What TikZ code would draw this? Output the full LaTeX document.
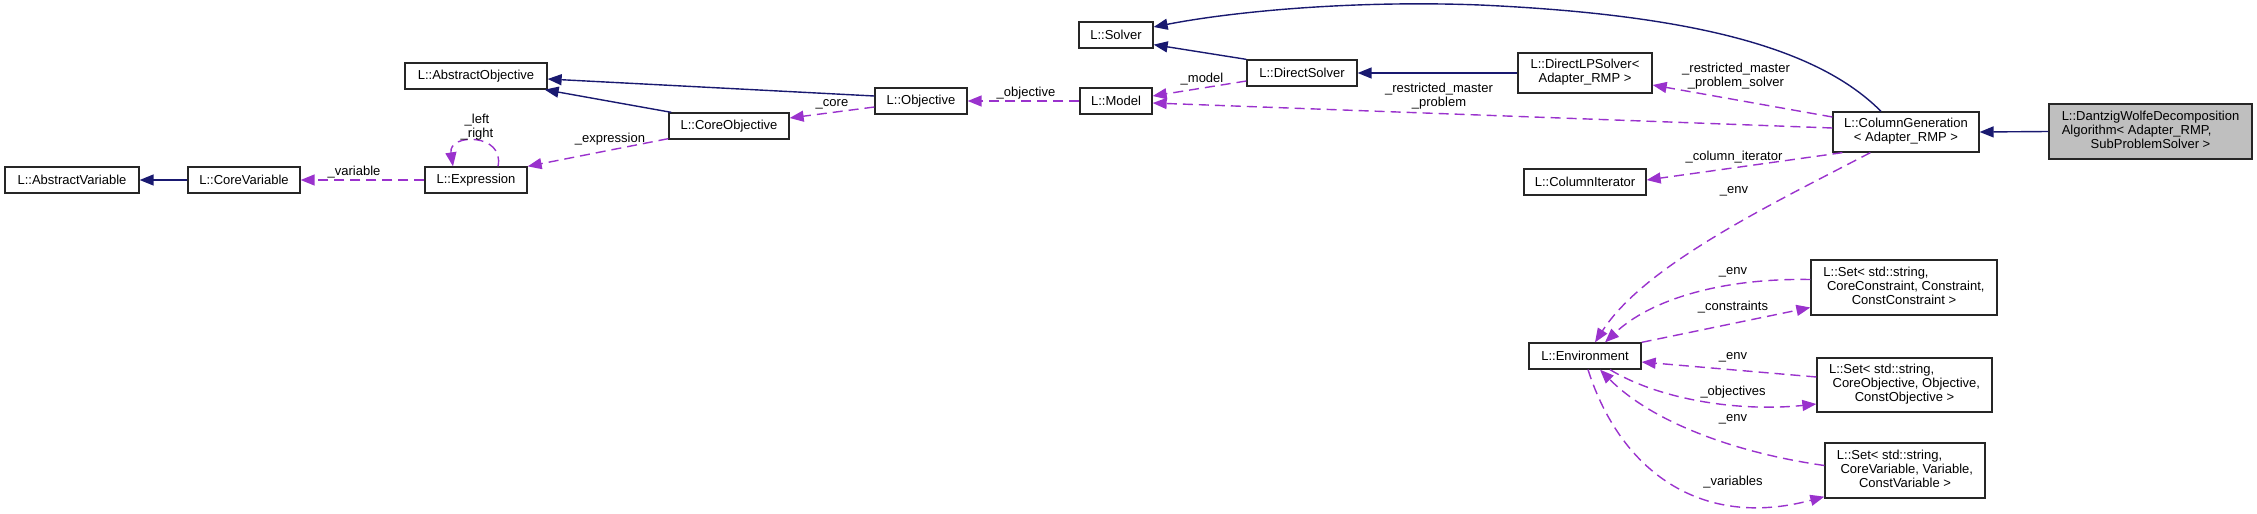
\documentclass[tikz,border=0pt]{standalone}
\usepackage{fontspec}
\setmainfont{Liberation Sans}
\usetikzlibrary{arrows.meta}
\definecolor{navyc}{HTML}{191970}
\definecolor{orchidc}{HTML}{9A32CD}
\definecolor{grayc}{HTML}{BFBFBF}
\newcommand\cfont{\fontsize{13}{14}\selectfont}
\newcommand\lastln[1]{\multicolumn{1}{@{}c@{}}{#1}}
\tikzset{
  cls/.style={draw=black!85, line width=1.3pt, inner sep=0pt, font=\cfont, minimum height=26pt, align=center},
  inh/.style={draw=navyc, line width=1.4pt, -{Triangle[length=14pt,width=11pt]}},
  use/.style={draw=orchidc, line width=1.4pt, dash pattern=on 10pt off 6pt, -{Triangle[length=14pt,width=11pt]}},
  lbl/.style={inner sep=0pt, font=\cfont, align=center}
}
\begin{document}
\begin{tikzpicture}[x=1pt,y=-1pt]
\useasboundingbox (0,0) rectangle (2257,514);
% nodes
\node[cls, minimum width=134pt] (av) at (72,180) {L::AbstractVariable};
\node[cls, minimum width=112pt] (cv) at (244,180) {L::CoreVariable};
\node[cls, minimum width=102pt] (ex) at (476,180) {L::Expression};
\node[cls, minimum width=142pt] (ao) at (476,76) {L::AbstractObjective};
\node[cls, minimum width=120pt] (co) at (729,126) {L::CoreObjective};
\node[cls, minimum width=92pt] (ob) at (921,101) {L::Objective};
\node[cls, minimum width=72pt] (md) at (1116,101) {L::Model};
\node[cls, minimum width=74pt] (sl) at (1116,35) {L::Solver};
\node[cls, minimum width=110pt] (ds) at (1302,73) {L::DirectSolver};
\node[cls, minimum width=134pt, minimum height=40pt] (lp) at (1585,73)
  {\begin{tabular}{@{}l@{}}L::DirectLPSolver<\\\lastln{Adapter\_RMP >}\end{tabular}};
\node[cls, minimum width=146pt, minimum height=40pt] (cg) at (1906,132)
  {\begin{tabular}{@{}l@{}}L::ColumnGeneration\\\lastln{< Adapter\_RMP >}\end{tabular}};
\node[cls, fill=grayc, minimum width=203pt, minimum height=55pt] (dz) at (2150.5,131.5)
  {\begin{tabular}{@{}l@{}}L::DantzigWolfeDecomposition\\Algorithm< Adapter\_RMP,\\\lastln{SubProblemSolver >}\end{tabular}};
\node[cls, minimum width=122pt] (ci) at (1585,182) {L::ColumnIterator};
\node[cls, minimum width=112pt] (en) at (1585,356) {L::Environment};
\node[cls, minimum width=186pt, minimum height=55pt] (sc) at (1904,287.5)
  {\begin{tabular}{@{}l@{}}L::Set< std::string,\\\hspace{3.6pt}CoreConstraint, Constraint,\\\lastln{ConstConstraint >}\end{tabular}};
\node[cls, minimum width=175pt, minimum height=54pt] (sob) at (1904.5,385)
  {\begin{tabular}{@{}l@{}}L::Set< std::string,\\\hspace{3.6pt}CoreObjective, Objective,\\\lastln{ConstObjective >}\end{tabular}};
\node[cls, minimum width=160pt, minimum height=55pt] (sv) at (1905,470.5)
  {\begin{tabular}{@{}l@{}}L::Set< std::string,\\\hspace{3.6pt}CoreVariable, Variable,\\\lastln{ConstVariable >}\end{tabular}};
% inheritance edges
\draw[inh] (cv.west) -- (av.east);
\draw[inh] ([xshift=3pt]co.north west) -- ([xshift=-3pt]ao.south east);
\draw[inh] ([yshift=5pt]ob.west) -- ([yshift=-3pt]ao.east);
\draw[inh] (ds.north west) -- ([yshift=4pt]sl.south east);
\draw[inh] (lp.west) -- (ds.east);
\draw[inh] ([xshift=-25pt]cg.north) .. controls (1820,50) and (1700,15) .. (1480,5)
  .. controls (1350,0) and (1230,12) .. ([yshift=8pt]sl.east);
\draw[inh] (dz.west) -- (cg.east);
% usage edges
\draw[use] (ex.west) -- (cv.east);
\draw[use] ([xshift=22pt]ex.north) .. controls (505,133) and (448,133) .. ([xshift=-23pt]ex.north);
\draw[use] ([yshift=1pt]co.south west) -- (ex.north east);
\draw[use] ([yshift=-6pt]ob.west) -- ([yshift=8pt]co.east);
\draw[use] (md.west) -- (ob.east);
\draw[use] ([yshift=-8pt]ds.west) -- ([yshift=5pt]md.east);
\draw[use] ([yshift=4pt]cg.west) -- ([yshift=-2pt]md.east);
\draw[use] ([yshift=15pt]cg.west) -- ([yshift=-12pt]lp.east);
\draw[use] ([xshift=10pt]cg.south west) -- ([yshift=2pt]ci.east);
\draw[use] ([xshift=38pt]cg.south west) .. controls (1770,205) and (1645,265) .. ([xshift=10pt]en.north);
\draw[use] ([yshift=8pt]sc.west) .. controls (1720,278) and (1650,300) .. ([xshift=20pt]en.north);
\draw[use] (en.north east) -- ([yshift=-20pt]sc.west);
\draw[use] ([yshift=8pt]sob.west) -- ([yshift=-6pt]en.east);
\draw[use] ([xshift=25pt]en.south) .. controls (1660,400) and (1740,412) .. ([yshift=-19pt]sob.west);
\draw[use] ([yshift=5pt]sv.west) .. controls (1730,452) and (1650,420) .. ([xshift=15pt]en.south);
\draw[use] ([xshift=3pt]en.south) .. controls (1620,470) and (1700,530) .. ([yshift=2pt]sv.south west);
% labels
\node[lbl] (l1) at (354,172) {\_variable};
\node[lbl] (l2) at (477,127) {\_left\\\_right};
\node[lbl] (l3) at (610,139) {\_expression};
\node[lbl] (l4) at (832,104) {\_core};
\node[lbl] (l5) at (1026,93) {\_objective};
\node[lbl] (l6) at (1202,79) {\_model};
\node[lbl] (l7) at (1439,96.5) {\_restricted\_master\\\_problem};
\node[lbl] (l8) at (1736,76) {\_restricted\_master\\\_problem\_solver};
\node[lbl] (l9) at (1734,157) {\_column\_iterator};
\node[lbl] (l10) at (1734,191) {\_env};
\node[lbl] (l11) at (1733,272) {\_env};
\node[lbl] (l12) at (1733,307) {\_constraints};
\node[lbl] (l13) at (1733,357) {\_env};
\node[lbl] (l14) at (1733,392) {\_objectives};
\node[lbl] (l15) at (1733,419) {\_env};
\node[lbl] (l16) at (1733,482) {\_variables};
\end{tikzpicture}
\end{document}
